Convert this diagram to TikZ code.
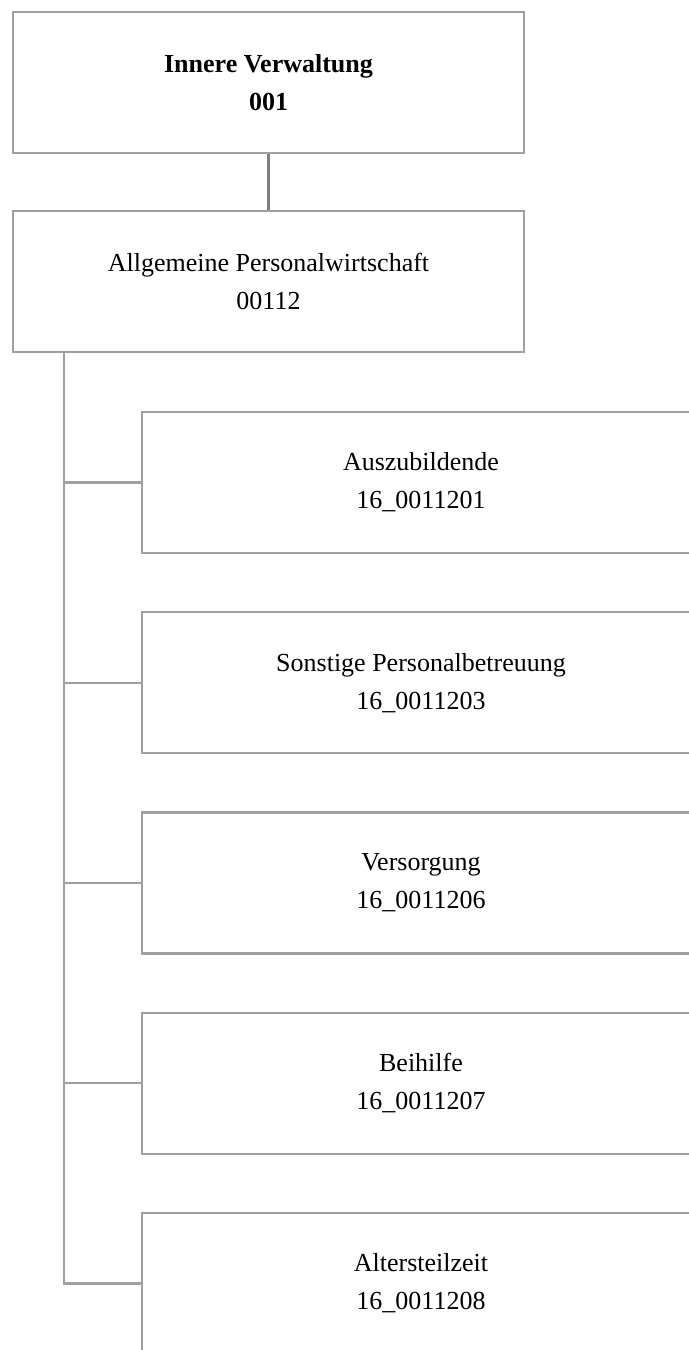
\documentclass[tikz,border=0pt]{standalone}
\usepackage{fontspec}
\setmainfont{Liberation Serif}
\definecolor{boxgray}{HTML}{A0A0A0}
\definecolor{linkgray}{HTML}{808080}
\tikzset{
  unit/.style={draw=boxgray,line width=1.1pt,inner sep=0pt,align=center,minimum width=255.5pt,minimum height=70.5pt},
  subunit/.style={unit,minimum width=279pt},
  link/.style={draw=boxgray,line width=1.1pt}
}
\begin{document}
\begin{tikzpicture}[x=0.5pt,y=-0.5pt, font=\fontsize{13}{19}\selectfont, line cap=butt, line join=miter]
\useasboundingbox (0,0) rectangle (689,1350);
\clip (0,0) rectangle (689,1350);
% top of the tree: department and its staff unit
\node[unit,font=\fontsize{13}{19}\selectfont\bfseries] (verw) at (268.5,82.5) {Innere Verwaltung\\001};
\node[unit] (pers) at (268.5,281.5) {Allgemeine Personalwirtschaft\\00112};
\draw[draw=linkgray,line width=1.3pt] (verw.south) -- (pers.south |- pers.north);

% products below, hanging from one trunk
\foreach \n/\y/\name/\code in {c1/482.5/Auszubildende/16\_0011201, c2/682.75/Sonstige Personalbetreuung/16\_0011203, c3/883/Versorgung/16\_0011206, c4/1083.25/Beihilfe/16\_0011207, c5/1283.5/Altersteilzeit/16\_0011208} {
  \node[subunit] (\n) at (421,\y) {\name\\\code};
}
\coordinate (trunk) at ([xshift=26pt]pers.south west);
\draw[link] (trunk) |- (c5.west);
\foreach \n in {c1,c2,c3,c4} {\draw[link] (trunk |- \n.west) -- (\n.west);}
\end{tikzpicture}
\end{document}
